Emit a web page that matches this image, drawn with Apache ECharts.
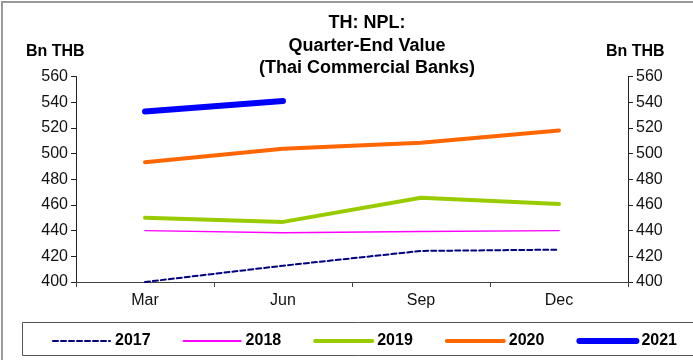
<!DOCTYPE html>
<html>
<head>
<meta charset="utf-8">
<script src="https://cdn.jsdelivr.net/npm/echarts@6/dist/echarts.min.js"></script>
<style>
  html, body { margin: 0; padding: 0; background: #fff; }
  #chart { width: 693px; height: 360px; }
</style>
</head>
<body>
<div id="chart"></div>
<script>
// Quarter-end NPL values of Thai commercial banks, Bn THB
var quarters = ['Mar', 'Jun', 'Sep', 'Dec'];
var years = ['2017', '2018', '2019', '2020', '2021'];
var npl2017 = [400, 412.7, 424.2, 425.2];
var npl2018 = [440, 438.3, 439.3, 440];
var npl2019 = [450, 446.8, 465.6, 460.8];
var npl2020 = [493.2, 503.8, 508.5, 518];
var npl2021 = [532.8, 541, null, null];
var axisMin = 400, axisMax = 560, axisStep = 20;

var FONT = '"Liberation Sans", Arial, sans-serif';

// per-year line look: colour, width, dash
var looks = {
  '2017': { color: '#000080', width: 2, type: [5, 3] },
  '2018': { color: '#FF00FF', width: 2, type: 'solid' },
  '2019': { color: '#99CC00', width: 4, type: 'solid' },
  '2020': { color: '#FF6600', width: 4, type: 'solid' },
  '2021': { color: '#0000FF', width: 6, type: 'solid' }
};
var seriesData = { '2017': npl2017, '2018': npl2018, '2019': npl2019, '2020': npl2020, '2021': npl2021 };

function yearSeries(name) {
  var lk = looks[name];
  return {
    name: name,
    type: 'line',
    data: seriesData[name],
    symbol: 'none',
    connectNulls: false,
    silent: true,
    lineStyle: { color: lk.color, width: name === '2018' ? 1.5 : lk.width, type: lk.type, cap: 'round', join: 'round' },
    itemStyle: { color: lk.color }
  };
}

var chart = echarts.init(document.getElementById('chart'), null, { renderer: 'canvas' });

var yAxisCommon = {
  type: 'value',
  min: axisMin,
  max: axisMax,
  interval: axisStep,
  splitLine: { show: false },
  axisLine: { show: true, lineStyle: { color: '#222', width: 1 } },
  axisTick: { show: true, inside: false, length: 5, lineStyle: { color: '#222' } },
  axisLabel: { color: '#111', fontSize: 16, fontFamily: FONT, margin: 8 }
};

chart.setOption({
  animation: false,
  backgroundColor: '#fff',
  title: {
    text: 'TH: NPL:\nQuarter-End Value\n(Thai Commercial Banks)',
    left: 362,
    top: 7,
    textAlign: 'center',
    textStyle: { fontSize: 18, fontWeight: 'bold', fontFamily: FONT, color: '#000', lineHeight: 22.5 }
  },
  grid: { left: 76, right: 65, top: 76.5, bottom: 78, containLabel: false },
  xAxis: {
    type: 'category',
    data: quarters,
    boundaryGap: true,
    axisLine: { show: true, lineStyle: { color: '#444', width: 1 } },
    axisTick: { show: true, inside: false, length: 5, alignWithLabel: false, lineStyle: { color: '#444' } },
    axisLabel: { color: '#111', fontSize: 16, fontFamily: FONT, margin: 11 }
  },
  yAxis: [
    Object.assign({}, yAxisCommon, { position: 'left' }),
    Object.assign({}, yAxisCommon, { position: 'right' })
  ],
  legend: {
    data: years.map(function (y) {
      var lk = looks[y];
      return { name: y, lineStyle: { width: lk.width, color: lk.color, type: lk.type, cap: 'round' } };
    }),
    left: 47,
    top: 328,
    itemWidth: 57,
    itemHeight: 12,
    itemGap: 32,
    selectedMode: false,
    itemStyle: { opacity: 0 },
    textStyle: { fontSize: 16, fontWeight: 'bold', fontFamily: FONT, color: '#000' }
  },
  graphic: [
    { type: 'rect', silent: true, z: -1, shape: { x: 2, y: 2, width: 720, height: 400 },
      style: { fill: null, stroke: '#999', lineWidth: 2 } },
    { type: 'rect', silent: true, shape: { x: 22.5, y: 322.5, width: 700, height: 33 },
      style: { fill: null, stroke: '#555', lineWidth: 1 } },
    { type: 'text', silent: true, left: 26, top: 44,
      style: { text: 'Bn THB', font: 'bold 16px ' + FONT, fill: '#000' } },
    { type: 'text', silent: true, left: 606, top: 44,
      style: { text: 'Bn THB', font: 'bold 16px ' + FONT, fill: '#000' } }
  ],
  series: years.map(yearSeries)
});
</script>
</body>
</html>
